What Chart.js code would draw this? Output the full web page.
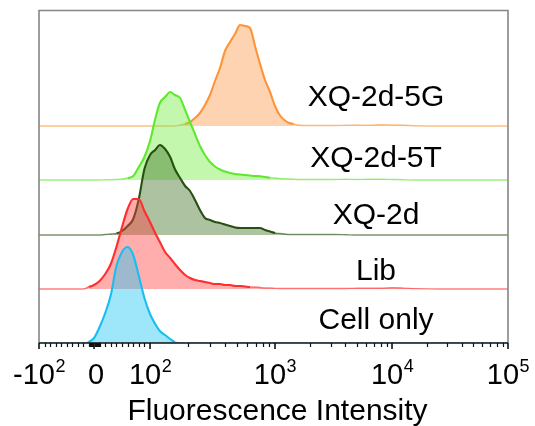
<!DOCTYPE html>
<html><head><meta charset="utf-8">
<script src="https://cdn.jsdelivr.net/npm/chart.js@4/dist/chart.umd.min.js"></script>
<style>html,body{margin:0;padding:0;background:#fff;}canvas{display:block;}</style>
</head><body>
<canvas id="c" width="535" height="426"></canvas>
<script>
// ---------------- DATA ----------------
// Histogram bin centres (fluorescence intensity)
const bins = [-100, -80, -60, -40, -20, -10, 0, 10, 20, 30, 40, 50, 60, 70, 80, 90,
  100, 110, 120, 132, 145, 158, 174, 191, 209, 229, 251, 275, 302, 331, 363, 398,
  437, 479, 525, 575, 631, 692, 759, 832, 912, 1000, 1096, 1202, 1318, 1445, 1585, 1738,
  1905, 2089, 2291, 2512, 3162, 3981, 5012, 6310, 7943, 10000, 12589, 15849, 25119, 39811, 63096, 100000];

const seriesNames = ['Cell only', 'Lib', 'XQ-2d', 'XQ-2d-5T', 'XQ-2d-5G'];

// counts (normalised, a.u.) per bin
const cellOnly = [0,0,0,0,0,1,5,16,30,48,77,91,96,88,67,45,
  29,19,12,8,4,1,0,0,0,0,0,0,0,0,0,0,
  0,0,0,0,0,0,0,0,0,0,0,0,0,0,0,0,
  0,0,0,0,0,0,0,0,0,0,0,0,0,0,0,0];
const lib = [0,0,0,0,0,2,4,8,15,25,42,62,80,90,90,78,
  67,56,47,37,31,25,19,14,11,9,8,7,6,5,5,4,
  4,3,3,2.5,2,2,1.5,1,1,0.6,0.5,0.5,0.5,0.5,0.5,0.5,
  0.5,0.5,0.5,0.5,0.5,0.5,0.7,0.8,0.8,1.2,0.9,0.4,0,0,0,0];
const xq2d = [0,0,0,0,0,0,0,0,0.5,1,1.5,4,9,16,36,66,
  80,85,90,86,78,66,57,49,44,35,25,17,15,13,12,10.5,
  9,7.5,7,7,7,7,7,5,3.5,2,1.5,1,0.5,0.5,0.5,0.5,
  0.5,0.5,0.5,0.5,0.5,0.3,0,0,0,0,0,0,0,0,0,0];
const xq2d5T = [0,0,0,0,0,0,0,0,0.2,0.3,0.5,1,2,4,13,23,
  39,61,77,83,88,85,82,70,58,46,34,25,18,13.5,10.5,8.5,
  7,6,5.5,5,4.5,4,3.8,3,2.2,2,1.5,1.2,1,0.8,0.5,0.5,
  0.5,0.5,0.5,0.5,0.5,0.7,0.5,0.7,0.7,0.5,0.3,0,0,0,0,0];
const xq2d5G = [0,0,0,0,0,0,0,0,0,0,0,0,0,0,0,0,
  0,0,0,0,0,0,1,2,4,8,13,21,31,45,58,75,
  84,92,101,100,98,80,62,46,34,20,11,6,3,2,1,0.5,
  0.5,0.5,0.5,0.5,0.5,0.7,1,0.8,1.2,1,0.8,0.3,0,0,0,0];

const majorTicks = [-100, 0, 100, 1000, 10000, 100000];
const majorTickLabels = [['-10', '2'], ['0', ''], ['10', '2'], ['10', '3'], ['10', '4'], ['10', '5']];
const axisTitle = 'Fluorescence Intensity';

// ---------------- LAYOUT / STYLE ----------------
const rowOffsets = [0, 54, 108, 163, 217];
const labelLift = [14, 9, 11.5, 13, 20];
const labelXValue = 7300;
const lineColors = ['rgb(25,190,240)', 'rgb(255,45,45)', 'rgb(40,80,18)', 'rgb(95,232,45)', 'rgb(255,148,55)'];
const flatColors = ['rgba(25,190,240,0.6)', 'rgba(255,45,45,0.6)', 'rgba(40,80,18,0.6)', 'rgba(95,232,45,0.6)', 'rgba(255,148,55,0.6)'];
const fillColors = ['rgba(40,200,245,0.45)', 'rgba(255,60,60,0.42)', 'rgba(60,110,30,0.42)', 'rgba(110,235,60,0.42)', 'rgba(250,150,70,0.42)'];
const FONT = '"Liberation Sans", Arial, sans-serif';

// biexponential-like display transform (anchor values -> fraction of axis)
const ANCHOR_F = [0, 0.1173, 0.2367, 0.5032, 0.7527, 1];
function toFrac(v) {
  if (v <= 100) {
    if (v <= 0) return ANCHOR_F[0] + (v + 100) / 100 * (ANCHOR_F[1] - ANCHOR_F[0]);
    return ANCHOR_F[1] + v / 100 * (ANCHOR_F[2] - ANCHOR_F[1]);
  }
  const l = Math.log10(v);
  const k = Math.min(4, Math.max(2, Math.floor(l)));
  return ANCHOR_F[k] + (l - k) * (ANCHOR_F[k + 1] - ANCHOR_F[k]);
}
function fromFrac(f) {
  if (f <= ANCHOR_F[1]) return -100 + (f - ANCHOR_F[0]) / (ANCHOR_F[1] - ANCHOR_F[0]) * 100;
  if (f <= ANCHOR_F[2]) return (f - ANCHOR_F[1]) / (ANCHOR_F[2] - ANCHOR_F[1]) * 100;
  for (let i = 2; i < 5; i++) {
    if (f <= ANCHOR_F[i + 1] || i === 4) return Math.pow(10, i + (f - ANCHOR_F[i]) / (ANCHOR_F[i + 1] - ANCHOR_F[i]));
  }
}

class BiexScale extends Chart.LinearScale {
  buildTicks() { return majorTicks.map(v => ({ value: v })); }
  getPixelForValue(v) {
    if (v === null || v === undefined || isNaN(v)) return NaN;
    return this.getPixelForDecimal(toFrac(v));
  }
  getValueForPixel(p) { return fromFrac(this.getDecimalForPixel(p)); }
}
BiexScale.id = 'biex';
Chart.register(BiexScale);

const seriesCounts = [cellOnly, lib, xq2d, xq2d5T, xq2d5G];
const isFlat = (counts, ctx) => Math.max(counts[ctx.p0DataIndex], counts[ctx.p1DataIndex]) < 2.5;
const datasets = seriesCounts.map((counts, i) => ({
  label: seriesNames[i],
  data: bins.map((b, j) => ({ x: b, y: rowOffsets[i] + counts[j] })),
  borderColor: lineColors[i],
  backgroundColor: fillColors[i],
  borderWidth: 2.1,
  pointRadius: 0,
  fill: { value: rowOffsets[i] },
  cubicInterpolationMode: 'monotone',
  segment: {
    borderColor: ctx => (isFlat(counts, ctx) ? flatColors[i] : undefined),
    borderWidth: ctx => (isFlat(counts, ctx) ? 1.4 : undefined)
  }
}));

function minorTickValues() {
  const m = [];
  for (let v = -90; v <= -20; v += 10) m.push(v);
  for (let v = -10; v <= 10; v += 1) if (v !== 0) m.push(v);
  for (let v = 20; v <= 90; v += 10) m.push(v);
  for (let d = 2; d <= 4; d++) for (let k = 2; k <= 9; k++) m.push(k * Math.pow(10, d));
  return m;
}

const decor = {
  id: 'decor',
  afterDatasetsDraw(chart) {
    const { ctx, chartArea: a, scales: { x, y } } = chart;
    ctx.save();
    // frame
    ctx.strokeStyle = '#858585';
    ctx.lineWidth = 1.6;
    ctx.beginPath();
    ctx.moveTo(a.left, a.bottom);
    ctx.lineTo(a.left, a.top + 0.5);
    ctx.lineTo(a.right, a.top + 0.5);
    ctx.lineTo(a.right, a.bottom);
    ctx.stroke();
    // x axis line
    ctx.strokeStyle = '#111';
    ctx.lineWidth = 1.5;
    ctx.beginPath();
    ctx.moveTo(a.left, a.bottom);
    ctx.lineTo(a.right, a.bottom);
    ctx.stroke();
    // ticks
    ctx.lineWidth = 1.2;
    ctx.beginPath();
    minorTickValues().forEach(v => {
      const px = Math.round(x.getPixelForValue(v)) + 0.5;
      ctx.moveTo(px, a.bottom); ctx.lineTo(px, a.bottom + 4);
    });
    ctx.stroke();
    ctx.lineWidth = 1.6;
    ctx.beginPath();
    majorTicks.forEach(v => {
      const px = x.getPixelForValue(v);
      ctx.moveTo(px, a.bottom); ctx.lineTo(px, a.bottom + 6);
    });
    ctx.stroke();
    // tick labels
    ctx.fillStyle = '#000';
    ctx.textBaseline = 'alphabetic';
    ctx.textAlign = 'left';
    majorTicks.forEach((v, i) => {
      const [b, s] = majorTickLabels[i];
      const px = x.getPixelForValue(v);
      ctx.font = '29px ' + FONT;
      const wb = ctx.measureText(b).width;
      ctx.font = '18px ' + FONT;
      const ws = s ? ctx.measureText(s).width : 0;
      const x0 = px - (wb + ws) / 2 + (s ? 0 : 2);
      ctx.font = '29px ' + FONT;
      ctx.fillText(b, x0, a.bottom + 41);
      if (s) { ctx.font = '18px ' + FONT; ctx.fillText(s, x0 + wb + 0.5, a.bottom + 29); }
    });
    // axis title
    ctx.font = '30px ' + FONT;
    ctx.textAlign = 'center';
    ctx.fillText(axisTitle, (a.left + a.right) / 2 + 4, a.bottom + 77);
    // series labels
    seriesNames.forEach((n, i) => {
      ctx.fillText(n, x.getPixelForValue(labelXValue), y.getPixelForValue(rowOffsets[i] + labelLift[i]));
    });
    ctx.restore();
  }
};

new Chart(document.getElementById('c'), {
  type: 'line',
  data: { datasets },
  options: {
    responsive: false,
    animation: false,
    devicePixelRatio: 1,
    layout: { padding: { left: 39, right: 27, top: 10, bottom: 83 } },
    scales: {
      x: { type: 'biex', min: -100, max: 100000, display: false },
      y: { type: 'linear', min: 0, max: 333, display: false }
    },
    plugins: { legend: { display: false }, tooltip: { enabled: false } }
  },
  plugins: [decor]
});
</script>
</body></html>
